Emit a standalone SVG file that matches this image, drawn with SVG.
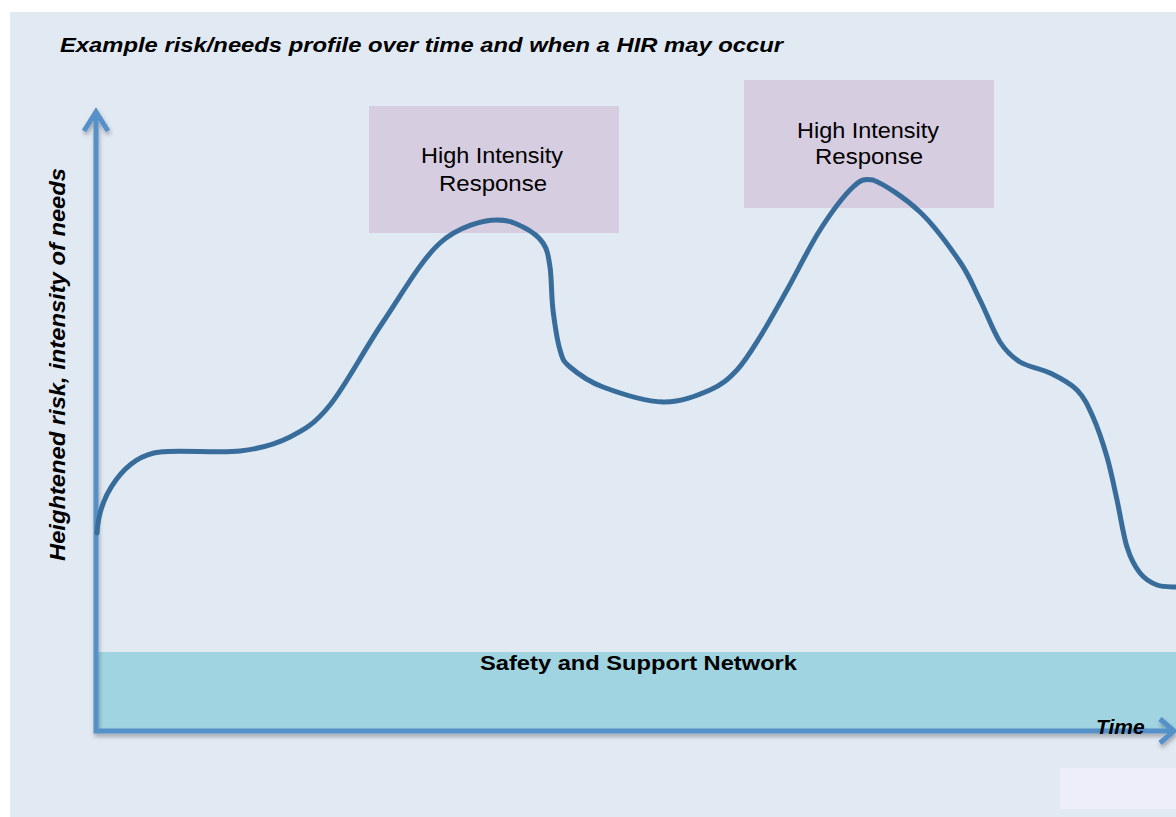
<svg xmlns="http://www.w3.org/2000/svg" width="1176" height="817" viewBox="0 0 1176 817">
  <defs>
    <style>
      .lbl { font-family: "Liberation Sans", Arial, sans-serif; fill: #000; }
      .bi { font-weight: bold; font-style: italic; }
      .b { font-weight: bold; }
      .box { fill: #D6CDE0; }
      .axis { fill: none; stroke: #5590C8; stroke-width: 5; }
      .curve { fill: none; stroke: #386D9B; stroke-width: 5; stroke-linecap: round; stroke-linejoin: round; }
    </style>
    <filter id="shadow" x="-5%" y="-5%" width="110%" height="110%">
      <feDropShadow dx="1" dy="3" stdDeviation="2" flood-color="#000" flood-opacity="0.3"/>
    </filter>
  </defs>

  <rect x="0" y="0" width="1176" height="817" fill="#FFFFFF"/>
  <rect x="10" y="12" width="1166" height="805" fill="#E1E9F3"/>

  <text class="lbl bi" x="60" y="52" font-size="21" textLength="723" lengthAdjust="spacingAndGlyphs">Example risk/needs profile over time and when a HIR may occur</text>

  <g id="safety-network">
    <rect x="98" y="652" width="1078" height="77" fill="#A0D4E1"/>
    <text class="lbl b" x="480" y="670" font-size="21" textLength="317" lengthAdjust="spacingAndGlyphs">Safety and Support Network</text>
  </g>

  <g id="hir-1">
    <rect class="box" x="369" y="106" width="250" height="127"/>
    <text class="lbl" x="421" y="163" font-size="22" textLength="142" lengthAdjust="spacingAndGlyphs">High Intensity</text>
    <text class="lbl" x="439" y="191" font-size="22" textLength="108" lengthAdjust="spacingAndGlyphs">Response</text>
  </g>

  <g id="hir-2">
    <rect class="box" x="744" y="80" width="250" height="128"/>
    <text class="lbl" x="797" y="138" font-size="22" textLength="142" lengthAdjust="spacingAndGlyphs">High Intensity</text>
    <text class="lbl" x="815" y="164" font-size="22" textLength="108" lengthAdjust="spacingAndGlyphs">Response</text>
  </g>

  <rect x="1060" y="768" width="116" height="41" fill="#EEEEFB"/>

  <g id="connectors" filter="url(#shadow)">
    <polyline class="axis" points="96,112 96,731 1172,731"/>
    <polyline class="axis" points="84,131 96,112 108,131" stroke-linejoin="miter"/>
    <polyline class="axis" points="1160,719 1174,731 1160,743" stroke-linejoin="miter"/>
  </g>

  <g id="y-label">
    <text class="lbl bi" transform="translate(65,561) rotate(-90)" x="0" y="0" font-size="22" textLength="393" lengthAdjust="spacingAndGlyphs">Heightened risk,  intensity of needs</text>
  </g>

  <g id="x-label">
    <text class="lbl bi" x="1096" y="734" font-size="21">Time</text>
  </g>

  <g id="profile-curve">
    <path class="curve" d="M97,533 C99,495 125,456 160,452 C178.8,449.3 218.3,453.5 240,451 C261.7,448.5 275,444.7 290,437 C305,429.3 314.5,424.2 330,405 C345.5,385.8 364.7,349 383,322 C401.3,295 421,260 440,243 C459,226 484,220 497,220 C510,220 515.3,223.2 523,227 C530.7,230.8 538.5,236.3 543,243 C547.5,249.7 548.3,255.8 550,267 C551.7,278.2 551.3,296.2 553,310 C554.7,323.8 557.2,340.5 560,350 C562.8,359.5 562.8,360.8 570,367 C577.2,373.2 587.5,381.2 603,387 C618.5,392.8 645.2,401.5 663,402 C680.8,402.5 697.7,395.3 710,390 C722.3,384.7 728.7,378.8 737,370 C745.3,361.2 751.7,350.3 760,337 C768.3,323.7 777,307.8 787,290 C797,272.2 809,247.2 820,230 C831,212.8 844.2,195.3 853,187 C861.8,178.7 864.7,179 873,180 C884.2,184.2 905.5,198.3 920,212 C934.5,225.7 950,247.3 960,262 C970,276.7 973.3,286.7 980,300 C986.7,313.3 993.3,331.7 1000,342 C1006.7,352.3 1011.7,356.8 1020,362 C1028.3,367.2 1040.5,368.3 1050,373 C1059.5,377.7 1069.8,382.7 1077,390 C1084.2,397.3 1088,405.8 1093,417 C1098,428.2 1103,443.2 1107,457 C1111,470.8 1113.7,485 1117,500 C1120.3,515 1123.2,534.8 1127,547 C1130.8,559.2 1135,566.7 1140,573 C1145,579.3 1151,582.7 1157,585 C1163,587.3 1172.8,586.7 1176,587"/>
  </g>
</svg>
